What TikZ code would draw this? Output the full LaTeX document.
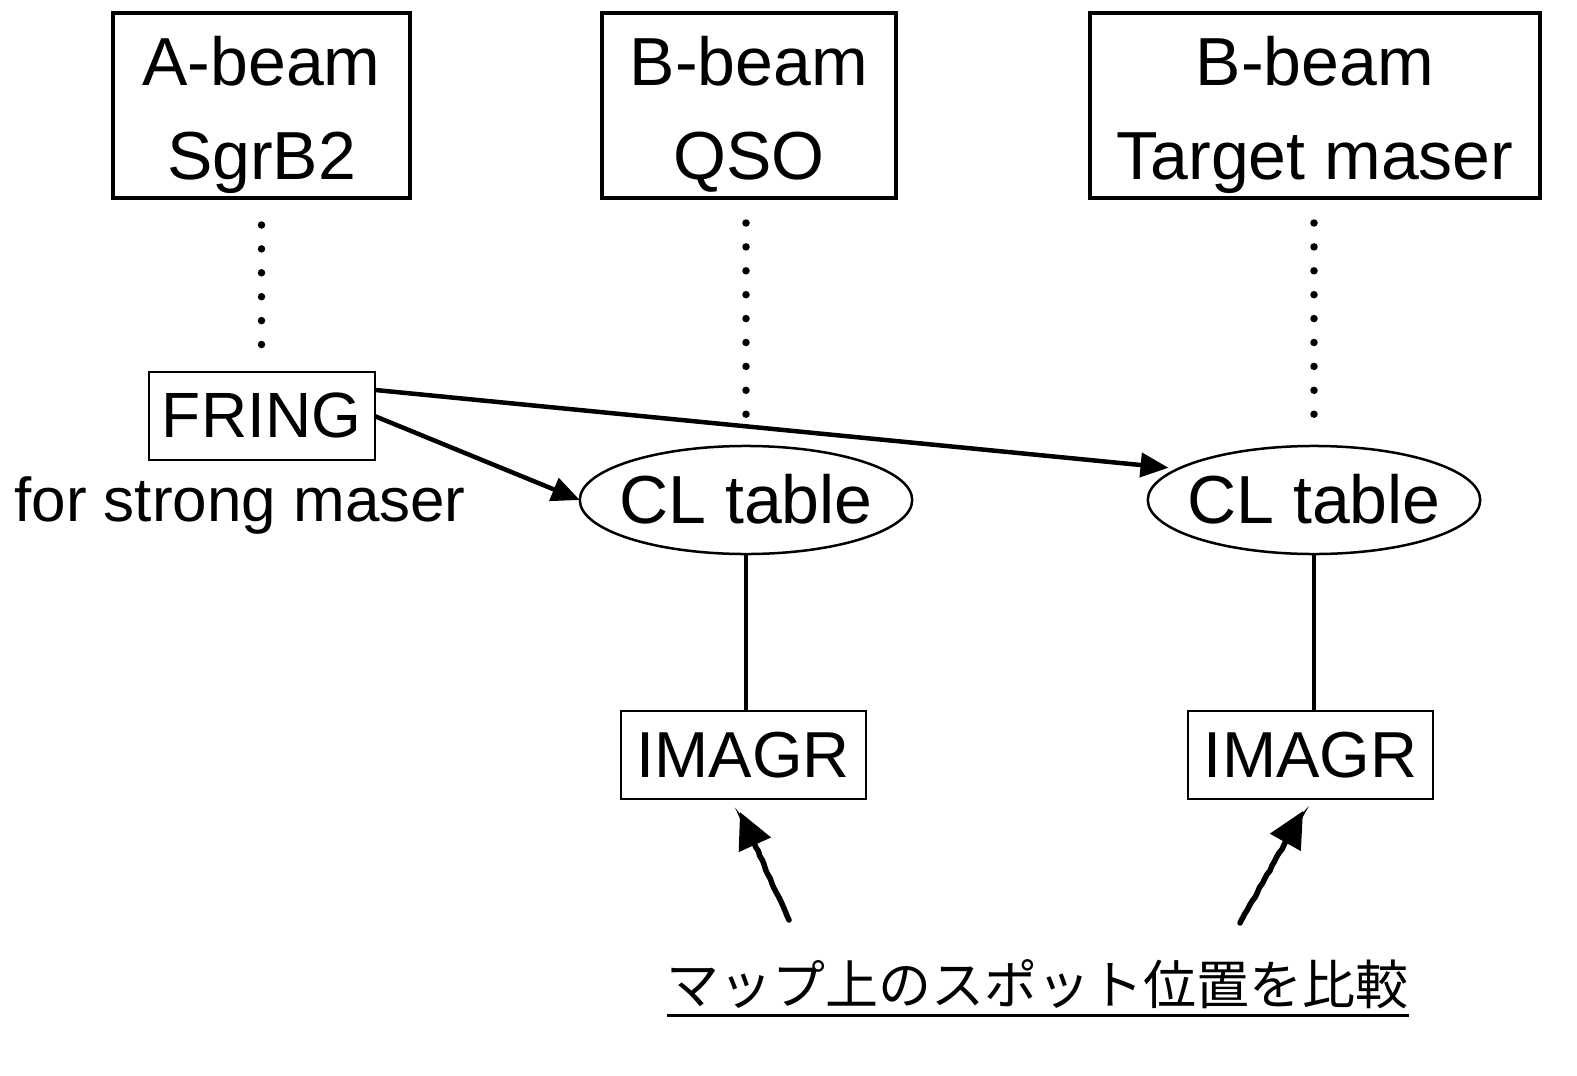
\documentclass[tikz,border=0pt]{standalone}
\usepackage{fontspec}
\setmainfont{Liberation Sans}
\newfontfamily\jpfont{Noto Sans CJK JP}
\usetikzlibrary{arrows.meta,shapes.geometric,decorations.pathmorphing,calc}
\begin{document}
\begin{tikzpicture}[x=1pt,y=-1pt,outer sep=0pt,
  bigbox/.style={draw,line width=4pt,inner sep=0pt,minimum height=185pt,align=center,
    font=\fontsize{68}{93.5}\selectfont},
  smallbox/.style={draw,line width=2pt,inner sep=0pt,minimum height=88pt,
    font=\fontsize{65}{78}\selectfont,text height=50pt,text depth=4pt},
  cltab/.style={draw,ellipse,line width=2.5pt,inner xsep=-9.1pt,inner ysep=9.2pt,
    font=\fontsize{68}{80}\selectfont,text height=52pt,text depth=6pt},
  dotline/.style={line width=7.5pt,line cap=round,dash pattern=on 0pt off 23.9pt},
  conn/.style={line width=4.5pt,-{Triangle[length=28pt,width=24pt]}},
  plain/.style={line width=4pt},
  pencil/.style={line width=5.5pt,line cap=round,decorate,
    decoration={random steps,segment length=5pt,amplitude=0.7pt,post length=16pt},
    -{Triangle[length=36pt,width=34pt]}}]
\useasboundingbox (0,0) rectangle (1577,1076);
\pgfmathsetseed{11}
% top boxes
\node[bigbox,minimum width=297pt] (ba) at (261.5,105.5) {\rule{0pt}{70pt}A-beam\\SgrB2\rule[-16.5pt]{0pt}{16.5pt}};
\node[bigbox,minimum width=294pt] (bb) at (749,105.5) {\rule{0pt}{70pt}B-beam\\QSO\rule[-16.5pt]{0pt}{16.5pt}};
\node[bigbox,minimum width=450pt] (bc) at (1315,105.5) {\rule{0pt}{70pt}B-beam\\Target maser\rule[-16.5pt]{0pt}{16.5pt}};
% FRING
\node[smallbox,minimum width=226pt,font=\fontsize{64}{78}\selectfont,text height=50pt,text depth=8pt] (fring) at (261.5,416) {FRING};
\node[font=\fontsize{62}{74}\selectfont,inner sep=0pt,text height=45pt,text depth=13pt] (note) at (240,505) {for strong maser};
% CL tables
\node[cltab] (cl1) at (746,500) {CL table};
\node[cltab] (cl2) at (1314,500) {CL table};
% IMAGR
\node[smallbox,minimum width=245pt] (im1) at (743,754.5) {IMAGR};
\node[smallbox,minimum width=245pt] (im2) at (1310.5,754.5) {IMAGR};
% Japanese caption
\node[font=\jpfont\fontsize{53}{60}\selectfont,inner sep=0pt,text height=49pt,text depth=11pt] (jp) at (1037.5,985) {マップ上のスポット位置を比較};
\draw[line width=3pt] (jp.south west) -- (jp.south east);
% dotted links
\draw[dotline,shorten <=27pt,shorten >=27pt] (ba.south -| fring.north) -- (fring.north);
\draw[dotline,shorten <=25pt,shorten >=31pt] (cl1.north |- bb.south) -- (cl1.north);
\draw[dotline,shorten <=25pt,shorten >=31pt] (cl2.north |- bc.south) -- (cl2.north);
% arrows
\draw[conn] (fring.east) -- (cl1.west);
\draw[conn,shorten >=10pt] (fring.13) -- (cl2.167);
\draw[plain] (cl1.south) -- (cl1.south |- im1.north);
\draw[plain] (cl2.south) -- (cl2.south |- im2.north);
% hand-drawn pointers
\coordinate (p1s) at (789,920);
\coordinate (p1e) at (740,812);
\coordinate (p2s) at (1240,923);
\coordinate (p2e) at (1303,811);
\draw[pencil] (p1s) -- (p1e);
\draw[pencil] (p2s) -- (p2e);
\end{tikzpicture}
\end{document}
